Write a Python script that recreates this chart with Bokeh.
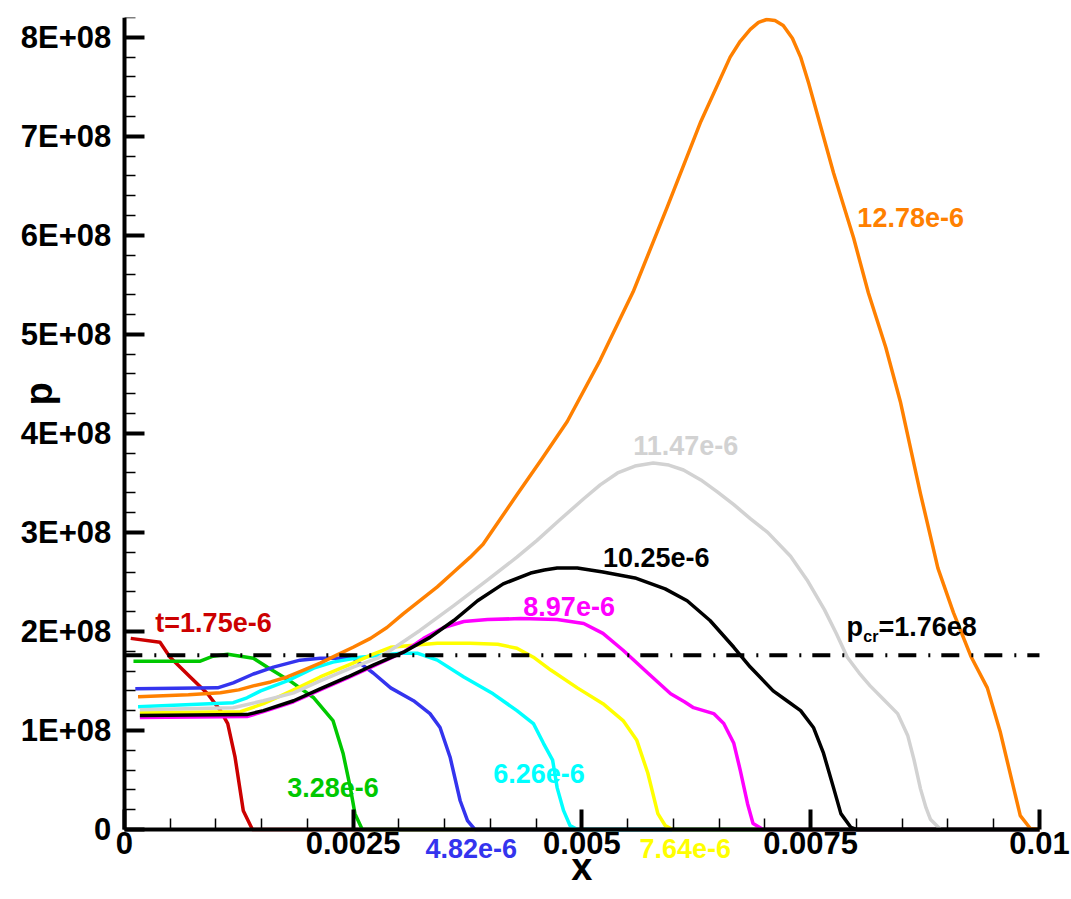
from math import pi
from bokeh.plotting import figure
from bokeh.models import Range1d, FixedTicker, CustomJSTickFormatter, Label
from bokeh.embed import file_html
from bokeh.resources import INLINE

# ---------------- data (x in m, p in Pa) ----------------
red_x = [0.00007, 0.00039, 0.00050, 0.00072, 0.00091, 0.00105, 0.00113, 0.00121, 0.00130, 0.00140, 0.0100]
red_p = [1.93e8, 1.89e8, 1.74e8, 1.54e8, 1.37e8, 1.20e8, 1.07e8, 0.73e8, 0.19e8, 0.0, 0.0]

green_x = [0.00010, 0.00083, 0.00097, 0.00113, 0.00127, 0.00141, 0.00156, 0.00181, 0.00207, 0.00228,
           0.00239, 0.00247, 0.00252, 0.00260, 0.0100]
green_p = [1.70e8, 1.70e8, 1.75e8, 1.77e8, 1.75e8, 1.73e8, 1.64e8, 1.50e8, 1.33e8, 1.10e8,
           0.77e8, 0.42e8, 0.16e8, 0.0, 0.0]

blue_x = [0.00012, 0.00102, 0.00119, 0.00141, 0.00163, 0.00192, 0.00214, 0.00250, 0.00272, 0.00291,
          0.00316, 0.00334, 0.00345, 0.00356, 0.00367, 0.00375, 0.00383, 0.0100]
blue_p = [1.42e8, 1.43e8, 1.48e8, 1.57e8, 1.64e8, 1.71e8, 1.73e8, 1.73e8, 1.58e8, 1.43e8,
          1.30e8, 1.17e8, 1.03e8, 0.73e8, 0.29e8, 0.09e8, 0.0, 0.0]

cyan_x = [0.00015, 0.00119, 0.00134, 0.00149, 0.00178, 0.00207, 0.00228, 0.00258, 0.00302, 0.00320,
          0.00342, 0.00371, 0.00403, 0.00429, 0.00447, 0.00458, 0.00468, 0.00473, 0.00480, 0.00487,
          0.00495, 0.0100]
cyan_p = [1.24e8, 1.28e8, 1.33e8, 1.40e8, 1.50e8, 1.63e8, 1.69e8, 1.74e8, 1.78e8, 1.78e8,
          1.71e8, 1.54e8, 1.37e8, 1.20e8, 1.07e8, 0.87e8, 0.70e8, 0.42e8, 0.19e8, 0.04e8,
          0.0, 0.0]

yellow_x = [0.00017, 0.00127, 0.00152, 0.00185, 0.00214, 0.00250, 0.00272, 0.00291, 0.00316, 0.00342,
            0.00378, 0.00408, 0.00429, 0.00447, 0.00466, 0.00495, 0.00523, 0.00545, 0.00560, 0.00572,
            0.00583, 0.00591, 0.00599, 0.0100]
yellow_p = [1.18e8, 1.19e8, 1.27e8, 1.41e8, 1.54e8, 1.68e8, 1.77e8, 1.84e8, 1.86e8, 1.88e8,
            1.88e8, 1.87e8, 1.83e8, 1.74e8, 1.61e8, 1.43e8, 1.27e8, 1.10e8, 0.90e8, 0.57e8,
            0.16e8, 0.04e8, 0.0, 0.0]

magenta_x = [0.00017, 0.00134, 0.00152, 0.00185, 0.00214, 0.00244, 0.00272, 0.00305, 0.00327, 0.00349,
             0.00371, 0.00397, 0.00433, 0.00473, 0.00502, 0.00523, 0.00545, 0.00572, 0.00597, 0.00612,
             0.00622, 0.00644, 0.00655, 0.00666, 0.00673, 0.00681, 0.00687, 0.00698, 0.0100]
magenta_p = [1.13e8, 1.14e8, 1.19e8, 1.29e8, 1.41e8, 1.53e8, 1.65e8, 1.79e8, 1.93e8, 2.04e8,
             2.10e8, 2.12e8, 2.13e8, 2.12e8, 2.08e8, 1.98e8, 1.81e8, 1.58e8, 1.37e8, 1.29e8,
             1.23e8, 1.17e8, 1.07e8, 0.87e8, 0.60e8, 0.26e8, 0.06e8, 0.0, 0.0]

black_x = [0.00017, 0.00134, 0.00152, 0.00185, 0.00214, 0.00244, 0.00272, 0.00305, 0.00334, 0.00360,
           0.00386, 0.00414, 0.00444, 0.00459, 0.00473, 0.00495, 0.00509, 0.00523, 0.00558, 0.00591,
           0.00615, 0.00640, 0.00666, 0.00684, 0.00709, 0.00724, 0.00739, 0.00753, 0.00764, 0.00775,
           0.00783, 0.00794, 0.00800, 0.0100]
black_p = [1.15e8, 1.16e8, 1.20e8, 1.30e8, 1.42e8, 1.54e8, 1.66e8, 1.79e8, 1.94e8, 2.11e8,
           2.31e8, 2.48e8, 2.59e8, 2.62e8, 2.64e8, 2.64e8, 2.62e8, 2.60e8, 2.54e8, 2.43e8,
           2.31e8, 2.11e8, 1.84e8, 1.64e8, 1.40e8, 1.30e8, 1.20e8, 1.03e8, 0.77e8, 0.42e8,
           0.16e8, 0.02e8, 0.0, 0.0]

gray_x = [0.00017, 0.00119, 0.00152, 0.00185, 0.00214, 0.00250, 0.00277, 0.00291, 0.00323, 0.00360,
          0.00397, 0.00429, 0.00451, 0.00475, 0.00502, 0.00520, 0.00539, 0.00558, 0.00578, 0.00595,
          0.00611, 0.00630, 0.00648, 0.00666, 0.00684, 0.00703, 0.00728, 0.00746, 0.00765, 0.00778,
          0.00790, 0.00803, 0.00815, 0.00830, 0.00845, 0.00856, 0.00863, 0.00870, 0.00876, 0.00881,
          0.00892, 0.0100]
gray_p = [1.21e8, 1.23e8, 1.30e8, 1.38e8, 1.50e8, 1.64e8, 1.73e8, 1.81e8, 2.01e8, 2.26e8,
          2.52e8, 2.75e8, 2.92e8, 3.12e8, 3.34e8, 3.48e8, 3.60e8, 3.67e8, 3.70e8, 3.68e8,
          3.63e8, 3.53e8, 3.41e8, 3.28e8, 3.14e8, 3.00e8, 2.76e8, 2.52e8, 2.22e8, 1.98e8,
          1.74e8, 1.58e8, 1.45e8, 1.31e8, 1.17e8, 0.95e8, 0.70e8, 0.41e8, 0.22e8, 0.10e8,
          0.0, 0.0]

orange_x = [0.00015, 0.00070, 0.00105, 0.00125, 0.00141, 0.00160, 0.00178, 0.00196, 0.00214, 0.00232,
            0.00250, 0.00269, 0.00287, 0.00305, 0.00323, 0.00342, 0.00360, 0.00378, 0.00392, 0.00429,
            0.00456, 0.00484, 0.00520, 0.00556, 0.00593, 0.00630, 0.00662, 0.00673, 0.00684, 0.00693,
            0.00702, 0.00711, 0.00720, 0.00730, 0.00739, 0.00748, 0.00757, 0.00775, 0.00790, 0.00797,
            0.00813, 0.00832, 0.00848, 0.00870, 0.00889, 0.00906, 0.00925, 0.00943, 0.00957, 0.00972,
            0.00979, 0.00990, 0.0100]
orange_p = [1.34e8, 1.36e8, 1.38e8, 1.41e8, 1.45e8, 1.49e8, 1.54e8, 1.61e8, 1.68e8, 1.76e8,
            1.84e8, 1.93e8, 2.04e8, 2.18e8, 2.31e8, 2.45e8, 2.60e8, 2.75e8, 2.88e8, 3.38e8,
            3.74e8, 4.12e8, 4.74e8, 5.43e8, 6.28e8, 7.15e8, 7.80e8, 7.96e8, 8.08e8, 8.15e8,
            8.18e8, 8.17e8, 8.12e8, 7.99e8, 7.80e8, 7.53e8, 7.23e8, 6.63e8, 6.18e8, 5.97e8,
            5.42e8, 4.87e8, 4.32e8, 3.39e8, 2.64e8, 2.19e8, 1.75e8, 1.43e8, 0.99e8, 0.41e8,
            0.14e8, 0.01e8, 0.0]

p_cr = 1.76e8

series_names = ["t=1.75e-6", "3.28e-6", "4.82e-6", "6.26e-6", "7.64e-6",
                "8.97e-6", "10.25e-6", "11.47e-6", "12.78e-6"]
series_colors = ["#cc0000", "#00c800", "#3434ee", "#00ffff", "#ffff00",
                 "#ff00ff", "#000000", "#d2d2d2", "#ff8000"]
series_xs = [red_x, green_x, blue_x, cyan_x, yellow_x, magenta_x, black_x, gray_x, orange_x]
series_ps = [red_p, green_p, blue_p, cyan_p, yellow_p, magenta_p, black_p, gray_p, orange_p]
# label anchors (left edge, vertical middle) in data units
label_x = [0.000339, 0.00178, 0.00329, 0.00403, 0.00563, 0.00436, 0.00523, 0.00556, 0.00801]
label_y = [2.09e8, 0.42e8, -0.197e8, 0.561e8, -0.197e8, 2.25e8, 2.75e8, 3.88e8, 6.18e8]

x_major = [0.0, 0.0025, 0.005, 0.0075, 0.01]
y_major = [0.0, 1e8, 2e8, 3e8, 4e8, 5e8, 6e8, 7e8, 8e8]
x_minor = [i * 0.0005 for i in range(0, 21) if i % 5 != 0]
y_minor = [i * 0.2e8 for i in range(0, 42) if i % 5 != 0]

X_MIN, X_MAX = 0.0, 0.01
Y_MIN, Y_MAX = 0.0, 8.2e8

FONT = "Liberation Sans"

# ---------------- figure ----------------
# the frame extends beyond the axes so that texts under the x axis, left of
# the y axis and the last tick label are drawn; axes are pinned at x=0 / p=0.
p = figure(width=1070, height=898, output_backend="svg", toolbar_location=None,
           x_range=Range1d(-0.0012, 0.010339), y_range=Range1d(-0.687e8, Y_MAX),
           min_border_left=14, min_border_right=0, min_border_top=17, min_border_bottom=1)
p.outline_line_color = None
p.grid.visible = False
p.background_fill_color = "white"
p.border_fill_color = "white"

xa = p.xaxis[0]
ya = p.yaxis[0]
xa.fixed_location = Y_MIN
ya.fixed_location = X_MIN
xa.bounds = (X_MIN, X_MAX)
ya.bounds = (Y_MIN, Y_MAX)
xa.ticker = FixedTicker(ticks=x_major, minor_ticks=x_minor)
ya.ticker = FixedTicker(ticks=y_major, minor_ticks=y_minor)
xa.formatter = CustomJSTickFormatter(code="""
    if (Math.abs(tick) < 1e-12) return "0";
    return String(Number(tick.toFixed(6)));
""")
ya.formatter = CustomJSTickFormatter(code="""
    if (Math.abs(tick) < 1) return "0";
    return Math.round(tick / 1e8) + "E+08";
""")
for ax in (xa, ya):
    ax.axis_line_width = 4
    ax.axis_line_color = "black"
    ax.major_tick_in = 20
    ax.major_tick_out = 0
    ax.major_tick_line_width = 4
    ax.minor_tick_in = 11
    ax.minor_tick_out = 0
    ax.minor_tick_line_width = 1.5
    ax.major_label_text_font = FONT
    ax.major_label_text_font_style = "bold"
    ax.major_label_text_font_size = "31px"
    ax.major_label_text_color = "black"
xa.major_label_standoff = 3
ya.major_label_standoff = 13

# curves
for xs, ps, col in zip(series_xs, series_ps, series_colors):
    p.line(xs, ps, line_color=col, line_width=3.5, line_join="round")

# critical pressure line
p.line([X_MIN, X_MAX], [p_cr, p_cr], line_color="black", line_width=4, line_dash="18 12 2 11")

# curve labels
for txt, lx, ly, col in zip(series_names, label_x, label_y, series_colors):
    p.add_layout(Label(x=lx, y=ly, text=txt, text_color=col, text_font=FONT,
                       text_font_style="bold", text_font_size="27px",
                       text_align="left", text_baseline="middle"))

# p_cr label
p.add_layout(Label(x=0.00789, y=2.04e8, text="p", text_color="black", text_font=FONT,
                   text_font_style="bold", text_font_size="27px",
                   text_align="left", text_baseline="middle"))
p.add_layout(Label(x=0.008075, y=1.946e8, text="cr", text_color="black", text_font=FONT,
                   text_font_style="bold", text_font_size="16px",
                   text_align="left", text_baseline="middle"))
p.add_layout(Label(x=0.00824, y=2.04e8, text="=1.76e8", text_color="black", text_font=FONT,
                   text_font_style="bold", text_font_size="27px",
                   text_align="left", text_baseline="middle"))

# axis titles
p.add_layout(Label(x=0.005, y=-0.384e8, text="x", text_color="black", text_font=FONT,
                   text_font_style="bold", text_font_size="38px",
                   text_align="center", text_baseline="middle"))
p.add_layout(Label(x=-0.00093, y=4.40e8, text="p", text_color="black", text_font=FONT,
                   text_font_style="bold", text_font_size="38px", angle=pi / 2,
                   text_align="center", text_baseline="middle"))

open("out.html", "w").write(file_html(p, INLINE))
